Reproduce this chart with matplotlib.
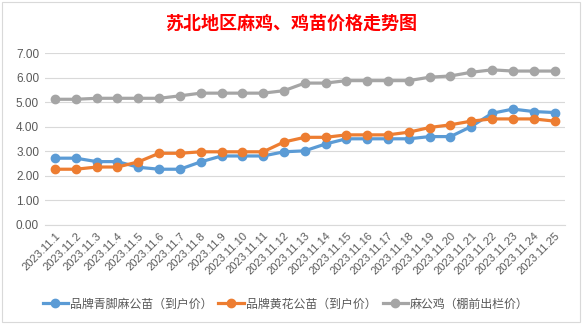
import matplotlib
matplotlib.use("Agg")
import matplotlib.pyplot as plt
from matplotlib.patches import Rectangle

plt.rcParams['font.family'] = ['Noto Sans CJK SC', 'DejaVu Sans']

dates = ["2023.11.%d" % d for d in range(1, 26)]
# 品牌青脚麻公苗（到户价）
blue = [2.72, 2.72, 2.58, 2.58, 2.35, 2.27, 2.27, 2.57, 2.81, 2.81, 2.81, 2.98, 3.02,
        3.30, 3.51, 3.51, 3.51, 3.51, 3.60, 3.60, 4.01, 4.55, 4.72, 4.62, 4.58]
# 品牌黄花公苗（到户价）
orange = [2.27, 2.27, 2.36, 2.36, 2.57, 2.92, 2.92, 2.98, 2.98, 2.98, 2.98, 3.38, 3.57,
          3.57, 3.67, 3.67, 3.67, 3.78, 3.97, 4.08, 4.23, 4.32, 4.32, 4.32, 4.23]
# 麻公鸡（棚前出栏价）
gray = [5.12, 5.12, 5.16, 5.16, 5.16, 5.16, 5.26, 5.37, 5.37, 5.37, 5.37, 5.47, 5.78,
        5.78, 5.88, 5.88, 5.88, 5.88, 6.02, 6.07, 6.22, 6.32, 6.27, 6.27, 6.27]
names = ["品牌青脚麻公苗（到户价）", "品牌黄花公苗（到户价）", "麻公鸡（棚前出栏价）"]
colors = ["#5B9BD5", "#ED7D31", "#A5A5A5"]

fig = plt.figure(figsize=(5.83, 3.26), dpi=100)
ax = fig.add_axes([0.0766, 0.31, 0.8924, 0.527])

x = range(len(dates))
for ys, nm, c in zip([blue, orange, gray], names, colors):
    ax.plot(x, ys, color=c, lw=2.3, marker="o", ms=6, label=nm)

ax.set_xlim(-0.5, len(dates) - 0.5)
ax.set_ylim(0, 7)
ax.set_yticks([0, 1, 2, 3, 4, 5, 6, 7])
ax.set_yticklabels(["%.2f" % v for v in range(8)], fontsize=8.5, color="#595959",
                   family=["Liberation Sans", "DejaVu Sans"])
ax.set_xticks(list(x))
ax.set_xticklabels(dates, rotation=45, ha="right", rotation_mode="anchor",
                   fontsize=8, color="#595959", family=["Liberation Sans", "DejaVu Sans"])
ax.tick_params(length=0, pad=4)
ax.grid(axis="y", color="#D9D9D9", lw=0.8)
ax.set_axisbelow(True)
for s in ["top", "right", "left"]:
    ax.spines[s].set_visible(False)
ax.spines["bottom"].set_color("#D9D9D9")

fig.text(0.5, 0.93, "苏北地区麻鸡、鸡苗价格走势图", ha="center", va="center",
         fontsize=13, fontweight="bold", color="#FF0000")

fig.legend(loc="center", bbox_to_anchor=(0.49, 0.067), ncol=3, frameon=False,
           fontsize=8.6, handlelength=2.1, columnspacing=0.5, handletextpad=0.2,
           labelcolor="#595959")

fig.patches.append(Rectangle((0.004, 0.012), 0.99, 0.982, transform=fig.transFigure,
                             fill=False, edgecolor="#D9D9D9", lw=0.8))

fig.savefig("out.png", dpi=100)
